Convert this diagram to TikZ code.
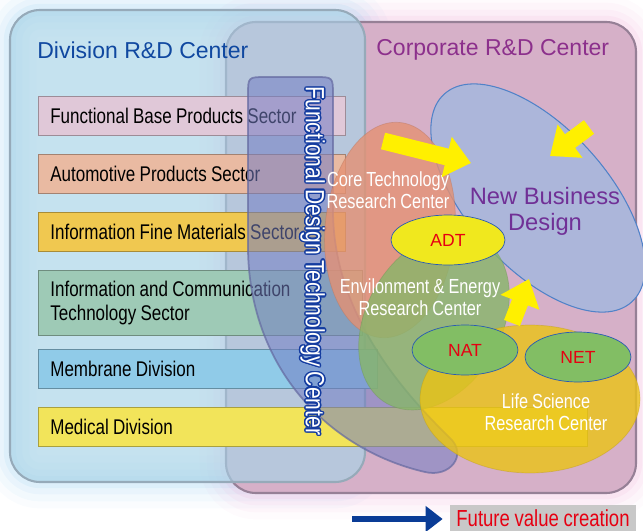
\documentclass[tikz,border=0pt]{standalone}
\usepackage{fontspec}
\setmainfont{Liberation Sans}
\newfontfamily\narrowfont{Liberation Sans}[FakeStretch=0.8, WordSpace={0.9,0,0}]
\usepackage{contour}
\contourlength{0.8pt}
\usepackage{tikz}
\usetikzlibrary{shapes.geometric,arrows.meta}

\definecolor{divfill}{RGB}{167,211,231}
\definecolor{divline}{RGB}{150,170,185}
\definecolor{divglow}{RGB}{120,190,235}
\definecolor{corpfill}{RGB}{214,176,200}
\definecolor{corpline}{RGB}{150,128,150}
\definecolor{corpglow}{RGB}{235,150,205}
\definecolor{secpink}{RGB}{224,200,216}
\definecolor{secsalmon}{RGB}{233,186,162}
\definecolor{secgold}{RGB}{240,200,80}
\definecolor{secgreen}{RGB}{158,202,182}
\definecolor{secblue}{RGB}{144,203,232}
\definecolor{secyellow}{RGB}{242,228,90}
\definecolor{fdtfill}{RGB}{115,125,195}
\definecolor{fdtline}{RGB}{100,105,160}
\definecolor{fdtblue}{RGB}{20,60,160}
\definecolor{nbdfill}{RGB}{172,182,218}
\definecolor{nbdline}{RGB}{80,130,200}
\definecolor{coresalmon}{RGB}{228,145,115}
\definecolor{envgreen}{RGB}{135,182,105}
\definecolor{lifeyellow}{RGB}{235,195,20}
\definecolor{adtyellow}{RGB}{240,232,30}
\definecolor{taggreen}{RGB}{130,190,100}
\definecolor{tagline}{RGB}{40,90,180}
\definecolor{tagred}{RGB}{230,0,18}
\definecolor{pushyellow}{RGB}{255,240,0}
\definecolor{divtitle}{RGB}{16,72,160}
\definecolor{corptitle}{RGB}{140,48,140}
\definecolor{nbdtext}{RGB}{112,48,150}
\definecolor{legblue}{RGB}{10,60,150}
\definecolor{leggray}{RGB}{200,200,200}

\newcommand{\ttlfont}{\fontsize{13.1}{15}\selectfont}
\newcommand{\secfont}{\narrowfont\fontsize{12.1}{13.7}\selectfont}
\newcommand{\ctrfont}{\narrowfont\fontsize{11.6}{12.4}\selectfont}
\newcommand{\nbdfont}{\fontsize{13.5}{14.8}\selectfont}
\newcommand{\admfont}{\fontsize{10}{12}\selectfont}
\newcommand{\fdtfont}{\narrowfont\fontsize{15}{16}\selectfont}
\newcommand{\futfont}{\narrowfont\fontsize{13.2}{15}\selectfont}

\begin{document}
\begin{tikzpicture}[x=0.02cm, y=-0.02cm,
    area/.style={rounded corners=0.6cm, line width=1.2pt},
    sector/.style={rectangle, draw=#1!70!black, fill=#1, anchor=west,
        minimum height=0.78cm, inner xsep=0.24cm, align=flush left, font=\secfont},
    blob/.style={ellipse, fill=#1, fill opacity=0.8, draw=#1!80!black,
        draw opacity=0.4, inner sep=0pt},
    tag/.style={ellipse, draw=tagline, fill=#1, inner sep=0pt,
        minimum width=2.2cm, minimum height=1cm, text=tagred, font=\admfont},
    wlabel/.style={text=white, align=center, font=\ctrfont},
    push/.style={-{Triangle[width=0.8cm,length=0.5cm]}, line width=0.34cm, pushyellow}
]
    \useasboundingbox (0,0) rectangle (643,531);

    % soft glows behind the two centers
    \foreach \w/\o in {30/0.04, 22/0.06, 14/0.08, 7/0.1} {
        \draw[area, corpglow, line width=\w pt, draw opacity=\o] (226,22) rectangle (636,493);
        \draw[area, divglow, line width=\w pt, draw opacity=\o] (10,10) rectangle (365,482);
    }

    % the two centers
    \draw[area, fill=corpfill, draw=corpline] (226,22) rectangle (636,493);
    \draw[area, fill=divfill, fill opacity=0.66, draw=divline] (10,10) rectangle (365,482);
    \node[font=\ttlfont, text=divtitle, anchor=west, inner sep=0pt] (divhead) at (37,50) {Division R\&D Center};
    \node[font=\ttlfont, text=corptitle, anchor=west, inner sep=0pt] (corphead) at (376,50) {Corporate R\&D Center};

    % sectors and divisions
    \node[sector=secpink, text width=5.66cm] (basesec) at (38,116) {Functional Base Products Sector};
    \node[sector=secsalmon, text width=5.66cm] (autosec) at (38,174) {Automotive Products Sector};
    \node[sector=secgold, text width=5.66cm] (finesec) at (38,232) {Information Fine Materials Sector};
    \node[sector=secgreen, text width=6.0cm, minimum height=1.3cm] (ictsec) at (38,303)
        {Information and Communication\\Technology Sector};
    \node[sector=secblue, text width=6.3cm] (memdiv) at (38,369) {Membrane Division};
    \node[sector=secyellow, text width=10.5cm] (meddiv) at (38,427) {Medical Division};

    % functional design technology center
    \draw[fill=fdtfill, fill opacity=0.55, draw=fdtline, draw opacity=0.7, line width=1pt]
        (248,95) -- (248,250) .. controls (250,370) and (330,450) .. (425,472)
        .. controls (450,478) and (468,455) .. (450,438)
        .. controls (385,375) and (333,300) .. (333,210) -- (333,95)
        .. controls (333,77) .. (315,77) -- (266,77)
        .. controls (248,77) .. (248,95) -- cycle;
    \node[rotate=-90, font=\fdtfont, text=white] (fdt) at (312,261)
        {\contour{fdtblue}{Functional Design Technology Center}};

    % research centers
    \node[ellipse, fill=nbdfill, draw=nbdline, line width=0.6pt, inner sep=0pt,
        minimum width=5.6cm, minimum height=2.8cm, rotate=-48] (nbd) at (538,198) {};
    \node[font=\nbdfont, text=nbdtext, align=center] (nbdlab) at (545,211) {New Business\\Design};
    \node[blob=coresalmon, minimum width=2.6cm, minimum height=4.32cm, rotate=-5] (core) at (390,230) {};
    \node[blob=envgreen, minimum width=2.7cm, minimum height=3.8cm, rotate=-30] (env) at (434,321) {};
    \node[blob=lifeyellow, minimum width=4.4cm, minimum height=2.96cm] (life) at (530,399) {};
    \node[wlabel] (corelab) at (388,190) {Core Technology\\Research Center};
    \node[wlabel] (envlab) at (420,297) {Envilonment \& Energy\\Research Center};
    \node[wlabel] (lifelab) at (546,412) {Life Science\\Research Center};

    \node[tag=adtyellow, minimum width=2.28cm] (adt) at (448,240) {ADT};
    \node[tag=taggreen, minimum width=2.12cm] (nat) at (465,350) {NAT};
    \node[tag=taggreen, minimum width=2.12cm] (net) at (578,357) {NET};

    % flows into new business design
    \coordinate (corepush) at (383,141);
    \coordinate (nbdleft) at (471,163);
    \coordinate (outpush) at (589,127);
    \coordinate (nbdright) at (550,156);
    \coordinate (lifepush) at (512,323);
    \coordinate (nbdlow) at (529,279);
    \draw[push] (corepush) -- (nbdleft);
    \draw[push] (outpush) -- (nbdright);
    \draw[push] (lifepush) -- (nbdlow);

    % legend
    \node[fill=leggray, minimum width=3.72cm, minimum height=0.54cm, inner sep=0pt,
        text=tagred, font=\futfont] (future) at (543,518) {Future value creation};
    \coordinate (futstart) at (352,519);
    \draw[-{Triangle[width=0.5cm,length=0.34cm]}, line width=0.12cm, legblue,
        shorten >=0.14cm] (futstart) -- (future.west |- futstart);
\end{tikzpicture}
\end{document}
